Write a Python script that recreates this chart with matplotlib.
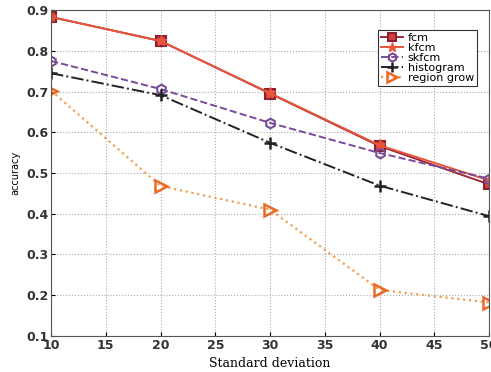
import matplotlib
matplotlib.use("Agg")
import matplotlib.pyplot as plt

std_dev = [10, 20, 30, 40, 50]
fcm = [0.883, 0.824, 0.695, 0.566, 0.472]
kfcm = [0.883, 0.824, 0.696, 0.568, 0.482]
skfcm = [0.775, 0.706, 0.623, 0.549, 0.486]
histogram = [0.745, 0.691, 0.574, 0.469, 0.394]
region_grow = [0.702, 0.468, 0.410, 0.213, 0.182]

fig = plt.figure(figsize=(4.91, 3.72), dpi=100)
ax = fig.add_axes([0.104, 0.097, 0.892, 0.876])

ax.plot(std_dev, fcm, color='#9a2a3a', lw=1.4, marker='s', ms=7,
        mfc='#d04040', mec='#8a2030', mew=1.5, label='fcm')
ax.plot(std_dev, kfcm, color='#e8553a', lw=1.4, marker='*', ms=8,
        mfc='#e8553a', mec='#e8553a', label='kfcm')
ax.plot(std_dev, skfcm, color='#7a4a9a', lw=1.4, ls='--', marker='h', ms=7,
        mfc='none', mec='#7a4a9a', mew=1.5, label='skfcm')
ax.plot(std_dev, histogram, color='#222222', lw=1.4, ls='-.', marker='+', ms=9,
        mew=1.8, label='histogram')
ax.plot(std_dev, region_grow, color='#f0a050', lw=1.6, ls=':', marker='>', ms=8,
        mfc='none', mec='#e86a28', mew=1.8, label='region grow')

ax.set_xlim(10, 50)
ax.set_ylim(0.1, 0.9)
ax.set_xticks(range(10, 51, 5))
ax.set_yticks([0.1, 0.2, 0.3, 0.4, 0.5, 0.6, 0.7, 0.8, 0.9])
ax.set_yticklabels(['0.1', '0.2', '0.3', '0.4', '0.5', '0.6', '0.7', '0.8', '0.9'])
for lab in ax.get_xticklabels() + ax.get_yticklabels():
    lab.set_fontweight('bold')
    lab.set_fontsize(9)
    lab.set_color('#333333')
ax.tick_params(direction='in', length=3, pad=2)
ax.grid(True, ls=':', color='#aaaaaa', lw=0.8)
for s in ax.spines.values():
    s.set_color('#555555')

ax.set_xlabel('Standard deviation', family='serif', fontsize=9, labelpad=4)
ax.set_ylabel('accuracy', fontsize=7, labelpad=4)

leg = ax.legend(loc='upper right', bbox_to_anchor=(0.985, 0.955), fontsize=8,
                handlelength=2.0, handletextpad=0.4, labelspacing=0.0,
                borderpad=0.25, fancybox=False, edgecolor='#333333', framealpha=1,
                markerscale=0.85)
leg.get_frame().set_linewidth(0.8)

plt.savefig("out.png", dpi=100)
